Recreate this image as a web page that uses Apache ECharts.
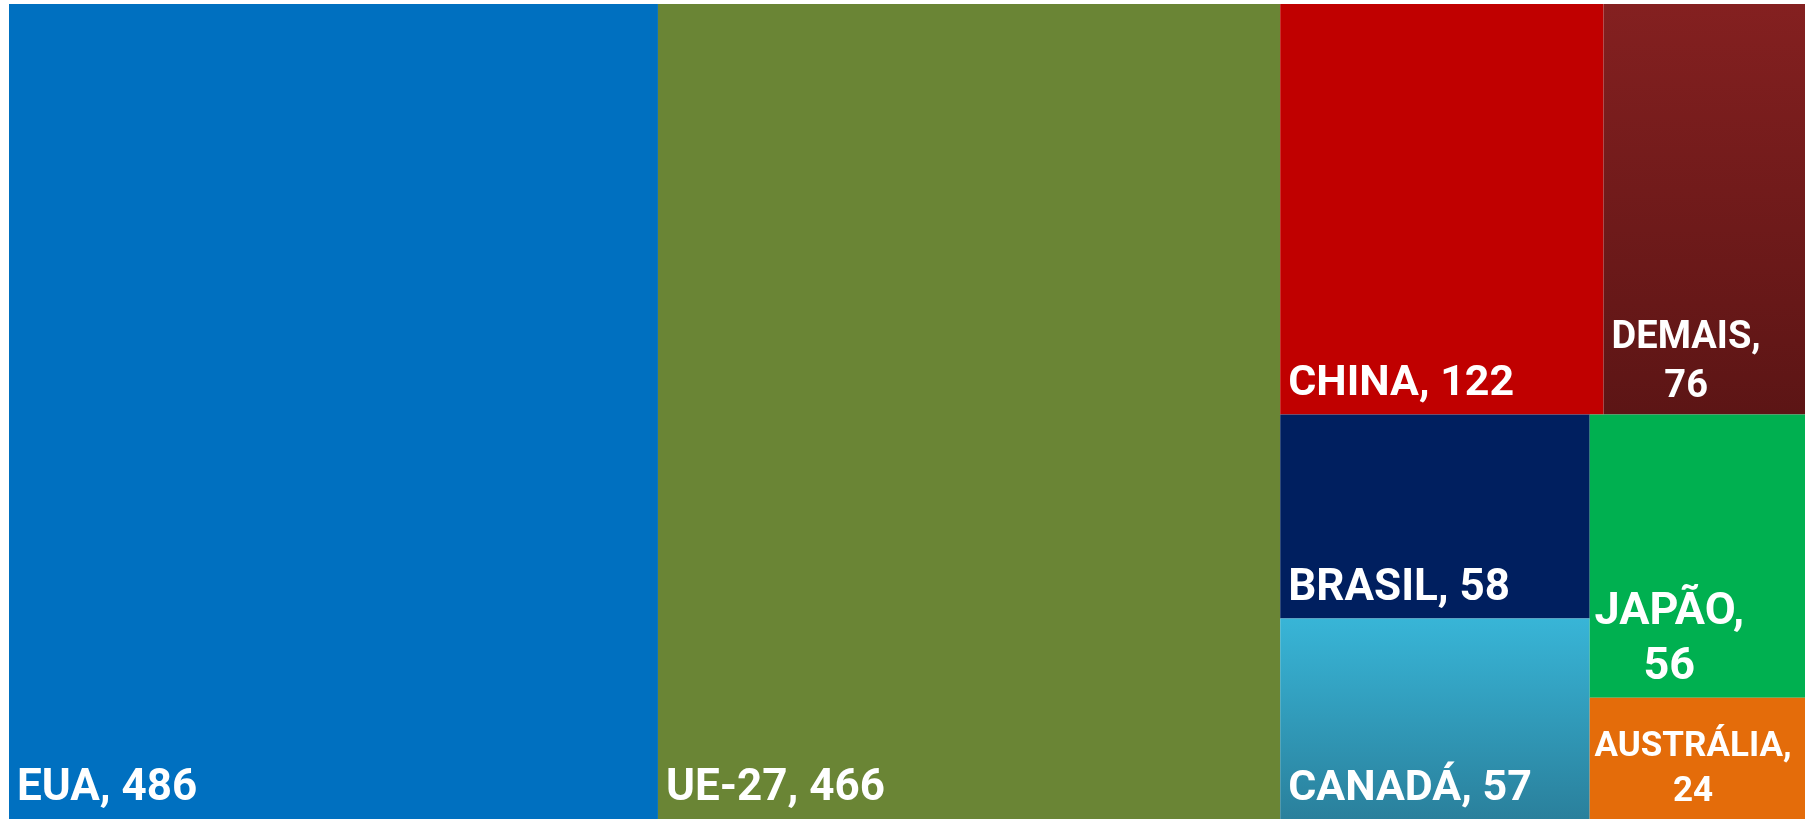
<!DOCTYPE html>
<html>
<head>
<meta charset="utf-8">
<script src="https://cdn.jsdelivr.net/npm/echarts@6/dist/echarts.min.js"></script>
<style>
html,body{margin:0;padding:0;background:#ffffff;}
#chart{width:1810px;height:819px;}
</style>
</head>
<body>
<div id="chart"></div>
<script>
// ---- data ----
const categories = ['EUA', 'UE-27', 'CHINA', 'DEMAIS', 'BRASIL', 'CANADÁ', 'JAPÃO', 'AUSTRÁLIA'];
const values = [486, 466, 122, 76, 58, 57, 56, 24];

// ---- styles ----
const G = echarts.graphic.LinearGradient;
const colors = {
  'EUA': '#0070C0',
  'UE-27': '#6A8535',
  'CHINA': '#C00000',
  'DEMAIS': new G(0, 0, 0, 1, [{offset: 0, color: '#842020'}, {offset: 1, color: '#5C1515'}]),
  'BRASIL': '#001F5F',
  'CANADÁ': new G(0, 0, 0, 1, [{offset: 0, color: '#38B5D7'}, {offset: 1, color: '#2A809C'}]),
  'JAPÃO': '#00B050',
  'AUSTRÁLIA': '#E46C0A'
};
const singleFontSize = {'EUA': 44, 'UE-27': 44, 'CHINA': 43, 'BRASIL': 44, 'CANADÁ': 43};
const singleLabel = {
  position: 'insideBottomLeft', distance: 8, offset: [0, 0],
  lineHeight: 44, formatter: '{b}, {c}'
};
const multiLabels = {
  'DEMAIS': {position: ['41%', '100%'], fontSize: 38, lineHeight: 49, offset: [0, -3]},
  'JAPÃO': {position: ['37%', '100%'], fontSize: 45, lineHeight: 55, offset: [0, -2]},
  'AUSTRÁLIA': {position: ['48%', '100%'], fontSize: 35, lineHeight: 45, offset: [0, -4]}
};

const seriesData = categories.map((name, i) => {
  const m = multiLabels[name];
  const label = m ? Object.assign({align: 'center', verticalAlign: 'bottom', formatter: '{b},\n{c}'}, m)
                  : Object.assign({fontSize: singleFontSize[name]}, singleLabel);
  return {name: name, value: values[i], itemStyle: {color: colors[name]}, label: label};
});

const chart = echarts.init(document.getElementById('chart'), null, {renderer: 'canvas'});
chart.setOption({
  animation: false,
  tooltip: {show: false},
  series: [{
    type: 'treemap',
    left: 9, top: 4, right: 5, bottom: 0,
    roam: false,
    nodeClick: false,
    squareRatio: 1,
    breadcrumb: {show: false},
    sort: 'desc',
    itemStyle: {borderWidth: 0, gapWidth: 0, borderColor: 'transparent'},
    label: {
      show: true, color: '#ffffff', fontFamily: 'Roboto', fontWeight: 'bold',
      overflow: 'none', padding: 0
    },
    upperLabel: {show: false},
    data: seriesData
  }]
});
</script>
</body>
</html>
